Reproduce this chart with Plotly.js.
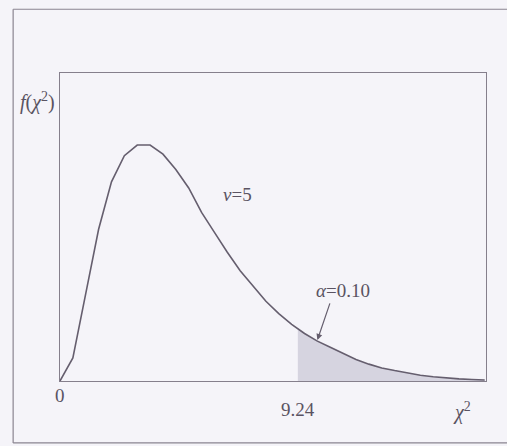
<!DOCTYPE html>
<html>
<head>
<meta charset="utf-8">
<script src="https://cdn.plot.ly/plotly-3.0.1.min.js"></script>
<style>
html,body{margin:0;padding:0;background:#f5f4f9;overflow:hidden;}
#chart{width:507px;height:446px;}
</style>
</head>
<body>
<div id="chart"></div>
<script>
// Chi-square density curve (v = 5)
const chiX = [0, 0.5, 1, 1.5, 2, 2.5, 3, 3.5, 4, 4.5, 5, 5.5, 6, 6.5, 7, 7.5, 8, 8.5, 9, 9.5,
              10, 10.5, 11, 11.5, 12, 12.5, 13, 13.5, 14, 14.5, 15, 15.5, 16, 16.5];
const densY = [0, 0.015, 0.057, 0.099, 0.130, 0.147, 0.154, 0.154, 0.148, 0.138, 0.126, 0.110,
               0.097, 0.084, 0.072, 0.062, 0.052, 0.044, 0.037, 0.031, 0.026, 0.022, 0.018,
               0.014, 0.011, 0.0085, 0.0068, 0.0052, 0.0038, 0.0028, 0.0020, 0.0014, 0.0010, 0.0007];
// Shaded tail (alpha = 0.10) beyond the critical value
const critValue = 9.24;
const tailX = [9.24, 9.5, 10, 10.5, 11, 11.5, 12, 12.5, 13, 13.5, 14, 14.5, 15, 15.5, 16, 16.5];
const tailY = [0.0346, 0.031, 0.026, 0.022, 0.018, 0.014, 0.011, 0.0085, 0.0068, 0.0052, 0.0038,
               0.0028, 0.0020, 0.0014, 0.0010, 0.0007];
const xTickVals = [0, 9.24];
const xTickText = ["0", "9.24"];

const lineCol = '#655e6e';
const textCol = '#5a5362';
const serif = 'Liberation Serif';
const frameCol = '#8a8590';

const traces = [
  {x: tailX, y: tailY, type: 'scatter', mode: 'lines', fill: 'tozeroy',
   fillcolor: '#d6d4e0', line: {width: 0, color: '#d6d4e0'}, hoverinfo: 'skip'},
  {x: chiX, y: densY, type: 'scatter', mode: 'lines',
   line: {color: lineCol, width: 1.6}}
];

const layout = {
  width: 507, height: 446,
  margin: {l: 60, r: 21, t: 73, b: 65},
  paper_bgcolor: '#f5f4f9', plot_bgcolor: '#f5f4f9',
  showlegend: false,
  font: {family: serif, color: textCol},
  xaxis: {range: [0, 16.55], showgrid: false, zeroline: false, showline: true, mirror: true,
          linecolor: '#857f8c', linewidth: 1.2, showticklabels: false, ticks: ''},
  yaxis: {range: [0, 0.201], showgrid: false, zeroline: false, showline: true, mirror: true,
          linecolor: '#857f8c', linewidth: 1.2, showticklabels: false, ticks: ''},
  shapes: [
    {type: 'line', xref: 'paper', yref: 'paper', x0: -0.11, x1: -0.11, y0: -0.201, y1: 1.207,
     line: {color: frameCol, width: 1.2}},
    {type: 'line', xref: 'paper', yref: 'paper', x0: -0.11, x1: 1.2, y0: 1.207, y1: 1.207,
     line: {color: frameCol, width: 1.2}},
    {type: 'line', xref: 'paper', yref: 'paper', x0: -0.11, x1: 1.2, y0: -0.201, y1: -0.201,
     line: {color: frameCol, width: 1.2}}
  ],
  annotations: [
    {x: xTickVals[0], y: 0, xref: 'x', yref: 'y', text: xTickText[0], showarrow: false,
     yanchor: 'middle', yshift: -14, font: {size: 19, family: serif, color: textCol}},
    {x: xTickVals[1], y: 0, xref: 'x', yref: 'y', text: xTickText[1], showarrow: false,
     yanchor: 'middle', yshift: -28, font: {size: 19, family: serif, color: textCol}},
    {x: 15.6, y: 0, xref: 'x', yref: 'y', text: '<i>χ</i><sup>2</sup>', showarrow: false,
     yanchor: 'middle', yshift: -30, font: {size: 20, family: serif, color: textCol}},
    {x: -0.098, y: 0.906, xref: 'paper', yref: 'paper', xanchor: 'left', yanchor: 'middle',
     text: '<i>f</i>(<i>χ</i><sup>2</sup>)', showarrow: false,
     font: {size: 20, family: serif, color: textCol}},
    {x: 6.9, y: 0.122, xref: 'x', yref: 'y', text: '<i>v</i>=5', showarrow: false,
     font: {size: 19, family: serif, color: textCol}},
    {x: 11.0, y: 0.059, xref: 'x', yref: 'y', text: '<i>α</i>=0.10', showarrow: false,
     font: {size: 19, family: serif, color: textCol}},
    {x: 10.0, y: 0.0268, xref: 'x', yref: 'y', text: '', showarrow: true,
     ax: 13, ay: -38, arrowhead: 2, arrowsize: 1, arrowwidth: 1.2, arrowcolor: lineCol}
  ]
};

Plotly.newPlot('chart', traces, layout, {displayModeBar: false, staticPlot: true});
</script>
</body>
</html>
